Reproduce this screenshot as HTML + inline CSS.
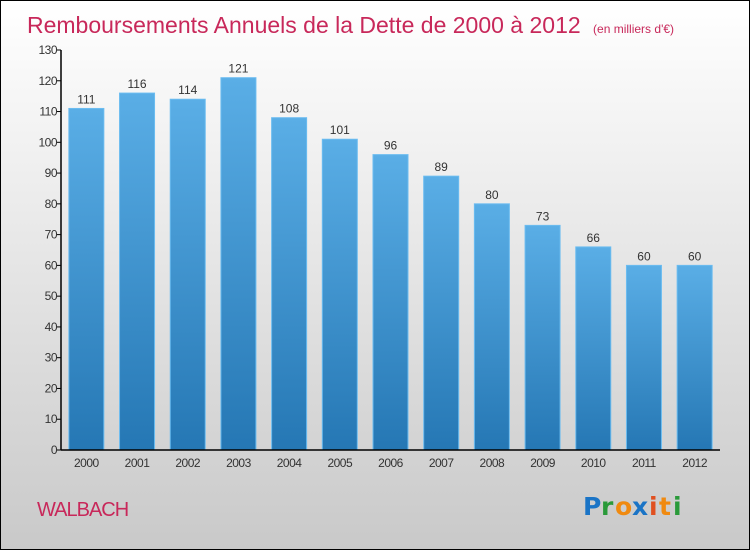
<!DOCTYPE html>
<html><head><meta charset="utf-8"><style>
body{margin:0;width:750px;height:550px;overflow:hidden;font-family:"Liberation Sans",sans-serif}
#c{position:absolute;left:0;top:0;width:748px;height:548px;border:1px solid #000;background:linear-gradient(#fff,#f2f2f2 25%,#c9c9c9)}
</style></head><body>
<div id="c">
<svg width="748" height="548" id="svg">
<defs><linearGradient id="g" x1="0" y1="0" x2="0" y2="1"><stop offset="0" stop-color="#5aaee6"/><stop offset="1" stop-color="#2577b4"/></linearGradient></defs>
<text x="26" y="32" font-size="23" fill="#c8285a">Remboursements Annuels de la Dette de 2000 à 2012 <tspan font-size="12" dx="6">(en milliers d'€)</tspan></text>
<text x="36" y="515" font-size="20" fill="#c8285a" letter-spacing="-1">WALBACH</text>
<g font-size="25" font-family="DejaVu Sans" font-weight="bold"><text x="582" y="514" fill="#1a74c6">P</text><text x="600" y="514" fill="#2a9a3a">r</text><text x="614" y="514" fill="#f08a10">o</text><text x="631" y="514" fill="#1a74c6">x</text><text x="648" y="514" fill="#e05020">i</text><text x="658" y="514" fill="#f08a10">t</text><text x="672" y="514" fill="#2a9a3a">i</text></g>
<g id="plot"></g>
</svg></div>
<script>
const categories=["2000","2001","2002","2003","2004","2005","2006","2007","2008","2009","2010","2011","2012"];
const values=[111,116,114,121,108,101,96,89,80,73,66,60,60];
const yTicks=[0,10,20,30,40,50,60,70,80,90,100,110,120,130];
const X0=60,X1=719,Y0=449,Y1=49,YMAX=130;
const y=v=>Y0-(v/YMAX)*(Y0-Y1);
const band=(X1-X0)/categories.length;
const xc=i=>X0+band*(i+0.5);
const g=document.getElementById('plot');
const NS='http://www.w3.org/2000/svg';
function mk(t,a){const e=document.createElementNS(NS,t);for(const k in a)e.setAttribute(k,a[k]);g.appendChild(e);return e;}
values.forEach((v,i)=>{
 const r=mk('rect',{x:xc(i)-17.5,y:y(v),width:35,height:Y0-y(v),fill:'url(#g)',stroke:'#6bbcf0','stroke-width':1});
 
 
 const t=mk('text',{x:xc(i),y:y(v)-5,'text-anchor':'middle','font-size':12,fill:'#333'});
 t.textContent=v;
 
 
 const xl=mk('text',{x:xc(i),y:Y0+17,'text-anchor':'middle','font-size':12,fill:'#333','letter-spacing':'-0.5'});
 xl.textContent=categories[i];
 
 
});
yTicks.forEach(v=>{
 const tl=mk('line',{x1:X0-4,x2:X0,y1:y(v),y2:y(v),stroke:'#000'});
 
 
 const t=mk('text',{x:X0-4,y:y(v)+4,'text-anchor':'end','font-size':12,fill:'#333','letter-spacing':'-0.5'});
 t.textContent=v;
 
 
});
const ya=mk('line',{x1:X0,x2:X0,y1:Y1,y2:Y0,stroke:'#000','stroke-width':1.5});


const xa=mk('line',{x1:X0,x2:X1,y1:Y0,y2:Y0,stroke:'#000','stroke-width':1.5});


</script>
</body></html>
